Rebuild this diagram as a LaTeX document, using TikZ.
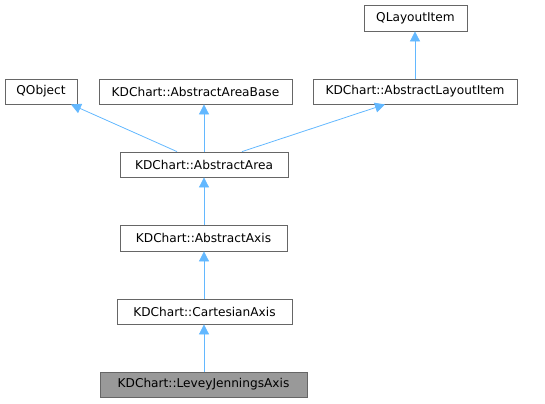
\documentclass[tikz,border=0pt]{standalone}
\usepackage{fontspec}
\setmainfont{DejaVu Sans}
\usetikzlibrary{arrows.meta}
\definecolor{edgeblue}{HTML}{63B8FF}
\definecolor{boxgray}{HTML}{666666}
\definecolor{curgray}{HTML}{999999}

\begin{document}
\begin{tikzpicture}[x=1bp, y=-1bp,
  cls/.style={draw=boxgray, line width=0.8bp, minimum height=25bp, inner sep=0pt,
    font=\fontsize{12.2}{14}\selectfont},
  inh/.style={draw=edgeblue, line width=0.8bp, {Triangle[length=10bp,width=10bp]}-}]
\useasboundingbox (0,0) rectangle (545,403);
\node[cls, minimum width=103bp, minimum height=26bp] (qli) at (415.5,18) {QLayoutItem};
\node[cls, minimum width=72bp] (qobj) at (41,91.5) {QObject};
\node[cls, minimum width=193bp] (aab) at (195.5,91.5) {KDChart::AbstractAreaBase};
\node[cls, minimum width=204bp] (ali) at (415,91.5) {KDChart::AbstractLayoutItem};
\node[cls, minimum width=168bp] (aa) at (204,164.5) {KDChart::AbstractArea};
\node[cls, minimum width=167bp, minimum height=26bp] (aax) at (203.5,238) {KDChart::AbstractAxis};
\node[cls, minimum width=175bp] (ca) at (204.5,311.5) {KDChart::CartesianAxis};
\node[cls, minimum width=207bp, fill=curgray] (lja) at (203.5,384.5) {KDChart::LeveyJenningsAxis};

\draw[inh] (qli.south -| ali.north) -- (ali.north);
\draw[inh] ([xshift=30bp]qobj.south) -- ([xshift=-27bp]aa.north);
\draw[inh] (aab.south -| aa.north) -- (aa.north);
\draw[inh] ([xshift=-30bp]ali.south) -- ([xshift=38bp]aa.north);
\draw[inh] (aa.south) -- (aa.south |- aax.north);
\draw[inh] (aax.south -| aa.south) -- (ca.north -| aa.south);
\draw[inh] (ca.south -| aa.south) -- (lja.north -| aa.south);
\end{tikzpicture}
\end{document}
